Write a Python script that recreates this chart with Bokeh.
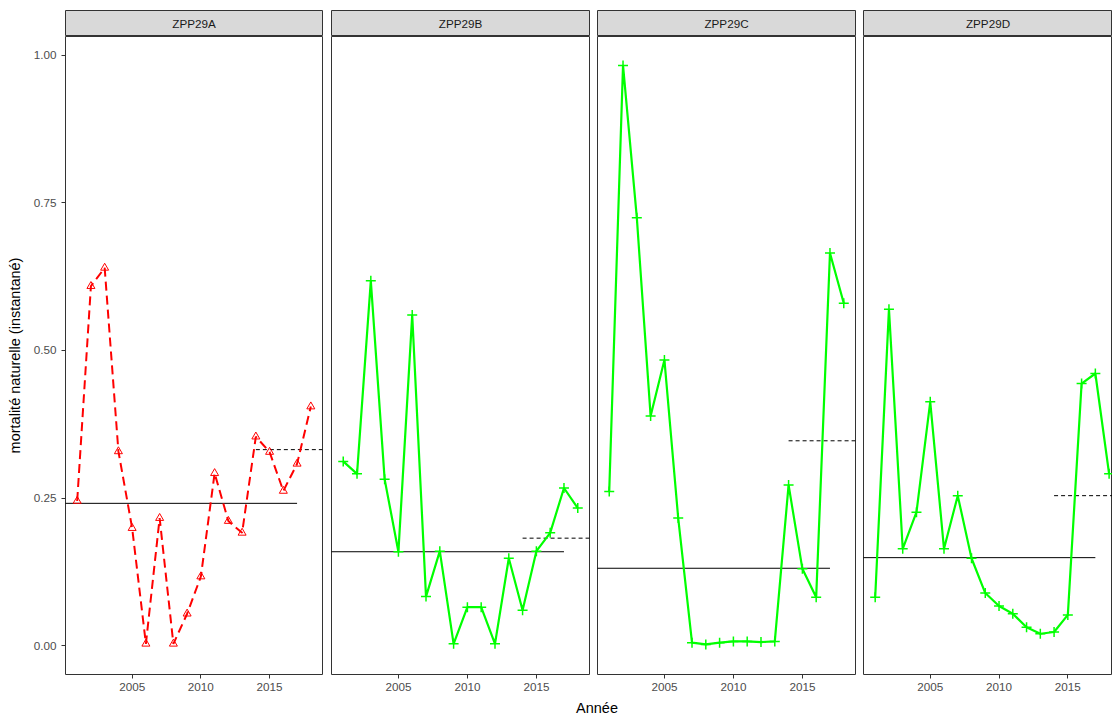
from bokeh.plotting import figure
from bokeh.layouts import column, row
from bokeh.models import Range1d, FixedTicker, Label, Div, NumeralTickFormatter
from bokeh.embed import file_html
from bokeh.resources import INLINE

# ---------------- data ----------------
years = list(range(2001, 2019))
zones = ["ZPP29A", "ZPP29B", "ZPP29C", "ZPP29D"]

m_A = [0.245, 0.609, 0.640, 0.329, 0.199, 0.003, 0.216, 0.003, 0.054,
       0.117, 0.292, 0.211, 0.191, 0.354, 0.328, 0.262, 0.308, 0.405]
m_B = [0.312, 0.291, 0.618, 0.282, 0.159, 0.560, 0.083, 0.160, 0.003,
       0.065, 0.065, 0.003, 0.148, 0.060, 0.160, 0.191, 0.267, 0.233]
m_C = [0.261, 0.983, 0.725, 0.389, 0.484, 0.216, 0.005, 0.002, 0.005,
       0.007, 0.007, 0.006, 0.007, 0.272, 0.130, 0.082, 0.665, 0.580]
m_D = [0.082, 0.570, 0.164, 0.226, 0.413, 0.164, 0.254, 0.148, 0.089,
       0.067, 0.054, 0.031, 0.020, 0.023, 0.052, 0.444, 0.461, 0.291]
series = [m_A, m_B, m_C, m_D]

mean_all = [0.241, 0.159, 0.131, 0.149]      # solid reference line
mean_all_x = [2000, 2017]
mean_recent = [0.332, 0.182, 0.347, 0.254]   # dashed reference line
mean_recent_x = [2014, 2020]

y_ticks = [0.0, 0.25, 0.5, 0.75, 1.0]
x_ticks = [2005, 2010, 2015]

# ---------------- layout constants ----------------
FONT = "Liberation Sans"
PX_PER_YEAR = 13.76
X0, X1 = 2000.15, 2018.85
Y0, Y1 = -0.049, 1.032
FH = 638
STRIP_H = 26

frame_w = [257, 258, 258, 249]
left_b = [65, 5, 4, 4]
right_b = [4, 4, 4, 0]

cols = []
for i, z in enumerate(zones):
    fw = frame_w[i]
    xend = X1 if i < 3 else X0 + fw / PX_PER_YEAR
    # strip
    s = figure(frame_width=fw, frame_height=STRIP_H, x_range=Range1d(0, 1), y_range=Range1d(0, 1),
               x_axis_location=None, y_axis_location=None, toolbar_location=None,
               output_backend="svg", min_border_left=left_b[i], min_border_right=right_b[i],
               min_border_top=10, min_border_bottom=0)
    s.grid.visible = False
    s.background_fill_color = "#D9D9D9"
    s.border_fill_color = "white"
    s.outline_line_color = "#333333"
    s.outline_line_width = 1
    s.add_layout(Label(x=0.5, y=0.5, text=z, text_align="center", text_baseline="middle",
                       text_font=FONT, text_font_size="11.7px", text_color="#1A1A1A"))

    # panel
    p = figure(frame_width=fw, frame_height=FH, x_range=Range1d(X0, xend), y_range=Range1d(Y0, Y1),
               y_axis_location="left" if i == 0 else None, toolbar_location=None,
               output_backend="svg", min_border_left=left_b[i], min_border_right=right_b[i],
               min_border_top=0, min_border_bottom=0)
    p.grid.visible = False
    p.background_fill_color = "white"
    p.border_fill_color = "white"
    p.outline_line_color = "#333333"
    p.outline_line_width = 1

    xa = p.xaxis[0]
    xa.ticker = FixedTicker(ticks=x_ticks)
    xa.axis_line_color = None
    xa.major_tick_line_color = "#333333"
    xa.major_tick_out = 4
    xa.major_tick_in = 0
    xa.minor_tick_line_color = None
    xa.major_label_standoff = 4
    xa.major_label_text_font = FONT
    xa.major_label_text_font_size = "11.7px"
    xa.major_label_text_color = "#4D4D4D"

    if i == 0:
        ya = p.yaxis[0]
        ya.ticker = FixedTicker(ticks=y_ticks)
        ya.formatter = NumeralTickFormatter(format="0.00")
        ya.axis_line_color = None
        ya.major_tick_line_color = "#333333"
        ya.major_tick_out = 4
        ya.major_tick_in = 0
        ya.minor_tick_line_color = None
        ya.major_label_standoff = 5
        ya.major_label_text_font = FONT
        ya.major_label_text_font_size = "11.7px"
        ya.major_label_text_color = "#4D4D4D"
        ya.axis_label = "mortalité naturelle (instantané)"
        ya.axis_label_text_font = FONT
        ya.axis_label_text_font_size = "14.5px"
        ya.axis_label_text_font_style = "normal"
        ya.axis_label_text_color = "black"
        ya.axis_label_standoff = 8

    # reference lines
    p.line(mean_all_x, [mean_all[i]] * 2, line_color="black", line_width=1)
    p.line(mean_recent_x, [mean_recent[i]] * 2, line_color="black", line_width=1, line_dash="4 3")

    vals = series[i]
    if i == 0:
        p.line(years, vals, line_color="#FF0000", line_width=2, line_dash="9 5")
        p.scatter(years, vals, marker="triangle", size=8, line_color="#FF0000",
                  fill_color=None, line_width=1)
    else:
        p.line(years, vals, line_color="#00FF00", line_width=2.2)
        p.scatter(years, vals, marker="cross", size=10, line_color="#00FF00", line_width=1.5)

    cols.append(column(s, p, spacing=0))

xlab = Div(text='<div style="box-sizing:border-box; width:1112px; padding-left:72px; padding-top:2px; '
                'text-align:center; font-family:\'Liberation Sans\'; font-size:14.5px; color:black; '
                'line-height:17px;">Année</div>',
           width=1112, height=19)

layout = column(row(*cols, spacing=0), xlab, spacing=0)

open("out.html", "w").write(file_html(layout, INLINE))
